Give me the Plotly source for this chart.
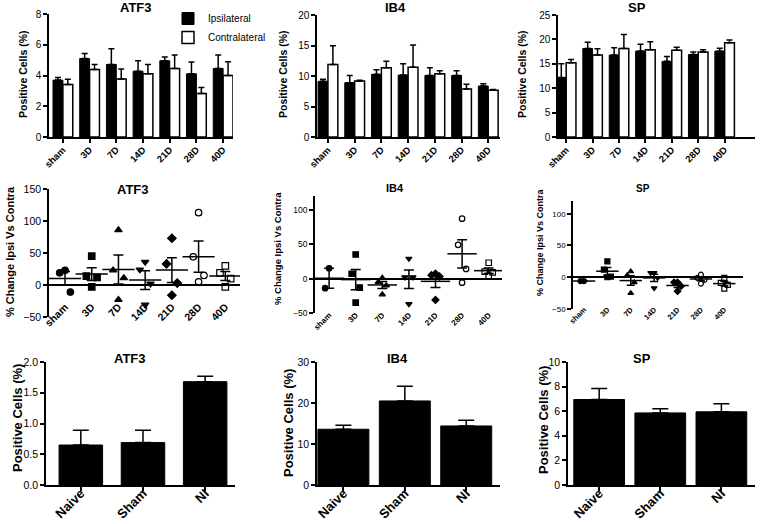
import numpy as np
import plotly.graph_objects as go

W, H = 760, 524
FONT = "Liberation Sans, Arial, sans-serif"

# ---------------- data ----------------
time_cats = ["sham", "3D", "7D", "14D", "21D", "28D", "40D"]
group_cats = ["Naive", "Sham", "NI"]

atf3_ipsi = [3.70, 5.10, 4.72, 4.28, 4.96, 4.11, 4.46]
atf3_ipsi_err = [0.17, 0.33, 1.02, 0.68, 0.24, 0.76, 0.87]
atf3_contra = [3.41, 4.39, 3.78, 4.11, 4.46, 2.83, 4.00]
atf3_contra_err = [0.35, 0.33, 0.65, 0.61, 0.87, 0.39, 0.89]

ib4_ipsi = [9.13, 8.90, 10.27, 10.16, 10.10, 10.10, 8.36]
ib4_ipsi_err = [0.32, 1.20, 0.77, 1.84, 1.27, 0.77, 0.38]
ib4_contra = [11.90, 9.18, 11.37, 11.42, 10.38, 7.87, 7.65]
ib4_contra_err = [3.07, 0.12, 1.03, 3.66, 0.49, 0.76, 0.15]

sp_ipsi = [12.2, 18.15, 16.8, 17.6, 15.5, 16.9, 17.6]
sp_ipsi_err = [2.8, 1.25, 1.5, 1.4, 1.0, 0.5, 0.6]
sp_contra = [15.2, 16.8, 18.15, 17.9, 17.8, 17.4, 19.3]
sp_contra_err = [0.7, 1.3, 2.85, 1.6, 0.6, 0.5, 0.6]

atf3_change = [[23, 19, -11], [45, 14, 12, -3], [86, 23, 11, -23], [36, 24, 2, -31],
               [73, 33, 3, -16], [113, 44, 15, 5], [30, 19, 10, -3]]
ib4_change = [[15, -14], [35, 7, -13, -35], [1, -5, -10, -23], [29, 2, 2, -37],
              [7, 5, 3, -31], [87, 49, 14, -6], [23, 10, 9, 4]]
sp_change = [[-6, -6], [25, 12, 1, 0], [9, 3, -8, -25], [7, 7, -1, -17],
             [-8, -8, -14, -22], [4, -1, -4, -10], [-1, -9, -12, -18]]
time_symbols = ["circle", "square", "triangle-up", "triangle-down", "diamond",
                "circle-open", "square-open"]

atf3_group = [0.65, 0.69, 1.68]
atf3_group_err = [0.24, 0.20, 0.09]
ib4_group = [13.6, 20.5, 14.4]
ib4_group_err = [1.0, 3.6, 1.4]
sp_group = [6.95, 5.86, 5.95]
sp_group_err = [0.89, 0.34, 0.65]

# ---------------- helpers ----------------
def px_x(x):
    return x / W


def px_y(y):
    return 1 - y / H


fig = go.Figure()
layout = dict(
    width=W, height=H, margin=dict(l=0, r=0, t=0, b=0, autoexpand=False),
    paper_bgcolor="white", plot_bgcolor="white",
    barmode="overlay", font=dict(family=FONT, color="black"),
    showlegend=True,
    legend=dict(x=px_x(168), y=px_y(4), xanchor="left", yanchor="top",
                xref="container", yref="container",
                font=dict(family=FONT, size=10, color="black"),
                bgcolor="rgba(0,0,0,0)", tracegroupgap=0, itemwidth=30),
)
annotations = []


def add_axes(n, xdom, ydom, xrange, yrange, dtick, tickfs, xlabfs, ticktext,
             tickformat=None, middle=False, label_y=None, standoff=0):
    xa = "xaxis" if n == 1 else f"xaxis{n}"
    ya = "yaxis" if n == 1 else f"yaxis{n}"
    xr = "x" if n == 1 else f"x{n}"
    yr = "y" if n == 1 else f"y{n}"
    xd = dict(domain=[px_x(xdom[0]), px_x(xdom[1])], range=xrange, automargin=False,
              tickmode="array", tickvals=list(range(len(ticktext))), ticktext=ticktext,
              tickangle=-45, showgrid=False, zeroline=False, ticklabelstandoff=standoff,
              tickfont=dict(family=FONT, size=xlabfs, color="black", weight="bold"))
    if middle:
        xd.update(anchor="free", position=px_y(label_y), showline=False, ticks="")
    else:
        xd.update(anchor=yr, showline=True, linecolor="black", linewidth=1.5,
                  ticks="outside", ticklen=4, tickwidth=1.5, tickcolor="black")
    yd = dict(domain=[px_y(ydom[1]), px_y(ydom[0])], range=yrange, dtick=dtick,
              anchor=xr, showline=True, linecolor="black", linewidth=1.5,
              ticks="outside", ticklen=4, tickwidth=1.5, tickcolor="black",
              showgrid=False, automargin=False,
              tickfont=dict(family=FONT, size=tickfs, color="black"))
    if tickformat:
        yd["tickformat"] = tickformat
    if middle:
        yd.update(zeroline=True, zerolinecolor="black", zerolinewidth=1.5)
    else:
        yd.update(zeroline=False)
    layout[xa] = xd
    layout[ya] = yd
    return xr, yr


def title(text, x, y, size):
    annotations.append(dict(text=f"<b>{text}</b>", x=px_x(x), y=px_y(y), xref="paper",
                            yref="paper", showarrow=False, xanchor="center",
                            yanchor="middle", font=dict(family=FONT, size=size,
                                                        color="black")))


def ytitle(text, x, y, size):
    annotations.append(dict(text=f"<b>{text}</b>", x=px_x(x), y=px_y(y), xref="paper",
                            yref="paper", showarrow=False, xanchor="center",
                            yanchor="middle", textangle=-90,
                            font=dict(family=FONT, size=size, color="black")))


def err(arr, thickness=1.5, width=3):
    return dict(type="data", array=arr, arrayminus=[0] * len(arr), symmetric=False,
                color="black", thickness=thickness, width=width, visible=True)


def grouped_bars(xr, yr, ipsi, ipsi_err, contra, contra_err, legend=False):
    idx = list(range(len(time_cats)))
    fig.add_trace(go.Bar(x=idx, y=ipsi, width=0.37, offset=-0.37, xaxis=xr, yaxis=yr,
                         marker=dict(color="black", line=dict(color="black", width=1)),
                         error_y=err(ipsi_err), name="Ipsilateral",
                         showlegend=legend))
    fig.add_trace(go.Bar(x=idx, y=contra, width=0.37, offset=0.0, xaxis=xr, yaxis=yr,
                         marker=dict(color="white", line=dict(color="black", width=1.5)),
                         error_y=err(contra_err), name="Contralateral",
                         showlegend=legend))


def scatter_panel(xr, yr, groups, msize, meanw, capw, spread):
    pattern = [0, -1, 1, 0, -1, 1]
    for i, vals in enumerate(groups):
        order = np.argsort(vals)[::-1]
        xs = [i + spread * pattern[k] for k in range(len(vals))]
        ys = [vals[j] for j in order]
        sym = time_symbols[i]
        fig.add_trace(go.Scatter(x=xs, y=ys, mode="markers", xaxis=xr, yaxis=yr,
                                 showlegend=False, hoverinfo="skip",
                                 marker=dict(symbol=sym, size=msize, color="black",
                                             line=dict(color="black", width=1.2))))
        arr = np.array(vals, dtype=float)
        mean = arr.mean()
        sem = arr.std(ddof=1) / np.sqrt(len(arr))
        fig.add_trace(go.Scatter(x=[i], y=[mean], mode="markers", xaxis=xr, yaxis=yr,
                                 showlegend=False, hoverinfo="skip",
                                 marker=dict(symbol="line-ew", size=meanw, color="black",
                                             line=dict(color="black", width=1.5)),
                                 error_y=dict(type="data", array=[sem], color="black",
                                              thickness=1.5, width=capw)))


def single_bars(xr, yr, vals, errs, width):
    fig.add_trace(go.Bar(x=list(range(len(group_cats))), y=vals, width=width,
                         xaxis=xr, yaxis=yr, showlegend=False,
                         marker=dict(color="black", line=dict(color="black", width=1)),
                         error_y=err(errs, thickness=1.5, width=8)))


# ---------------- top row ----------------
xr, yr = add_axes(1, (49, 233), (14, 137), [-0.52, 6.37], [0, 8], 2, 10, 9.5, time_cats,
                  standoff=-2)
grouped_bars(xr, yr, atf3_ipsi, atf3_ipsi_err, atf3_contra, atf3_contra_err, legend=True)
title("ATF3", 136, 7, 13)
ytitle("Positive Cells (%)", 23, 74, 10.5)

xr, yr = add_axes(2, (317, 500), (15, 137), [-0.41, 6.44], [0, 20], 5, 10, 9.5, time_cats,
                  standoff=-2)
grouped_bars(xr, yr, ib4_ipsi, ib4_ipsi_err, ib4_contra, ib4_contra_err)
title("IB4", 395, 7, 13)
ytitle("Positive Cells (%)", 283, 74, 10.5)

xr, yr = add_axes(3, (558, 755), (15, 137), [-0.31, 7.15], [0, 25], 5, 10, 9.5, time_cats,
                  standoff=-2)
grouped_bars(xr, yr, sp_ipsi, sp_ipsi_err, sp_contra, sp_contra_err)
title("SP", 637, 7, 13)
ytitle("Positive Cells (%)", 522, 74, 10.5)

# ---------------- middle row ----------------
xr, yr = add_axes(4, (49, 240), (189, 317), [-0.6, 6.55], [-50, 150], 50, 10.5, 10.5,
                  time_cats, middle=True, label_y=298)
scatter_panel(xr, yr, atf3_change, 6.5, 23, 5, 0.2)
title("ATF3", 133, 189, 13)
ytitle("% Change Ipsi Vs Contra", 10, 252, 11)

xr, yr = add_axes(5, (315, 502), (196, 313), [-0.53, 6.5], [-50, 120], 50, 8.5, 8,
                  time_cats, middle=True, label_y=308)
scatter_panel(xr, yr, ib4_change, 5.5, 21, 5, 0.15)
title("IB4", 395, 188, 11)
ytitle("% Change Ipsi Vs Contra", 277, 249, 9.5)

xr, yr = add_axes(6, (573, 743), (201, 309), [-0.47, 6.8], [-50, 120], 50, 8, 7.5,
                  time_cats, middle=True, label_y=303)
scatter_panel(xr, yr, sp_change, 5, 16, 4, 0.15)
title("SP", 643, 188, 10)
ytitle("% Change Ipsi Vs Contra", 540, 242, 9)

# ---------------- bottom row ----------------
xr, yr = add_axes(7, (46, 235), (362, 485), [-0.56, 2.48], [0, 2], 0.5, 10.5, 13,
                  group_cats, tickformat=".1f", standoff=-10)
single_bars(xr, yr, atf3_group, atf3_group_err, 0.7)
title("ATF3", 130, 358, 13)
ytitle("Positive Cells (%)", 17, 418, 13)

xr, yr = add_axes(8, (317, 500), (362, 485), [-0.43, 2.55], [0, 30], 10, 10.5, 13,
                  group_cats, standoff=-10)
single_bars(xr, yr, ib4_group, ib4_group_err, 0.83)
title("IB4", 397, 358, 13)
ytitle("Positive Cells (%)", 288, 423, 13)

xr, yr = add_axes(9, (568, 755), (362, 485), [-0.51, 2.55], [0, 10], 2, 10.5, 13,
                  group_cats, standoff=-10)
single_bars(xr, yr, sp_group, sp_group_err, 0.83)
title("SP", 642, 358, 13)
ytitle("Positive Cells (%)", 543, 420, 13)

layout["annotations"] = annotations
fig.update_layout(**layout)
fig.write_html("out.html", config={"displayModeBar": False},
               post_script="document.body.style.margin='0';"
                           "document.body.style.overflow='hidden';")
